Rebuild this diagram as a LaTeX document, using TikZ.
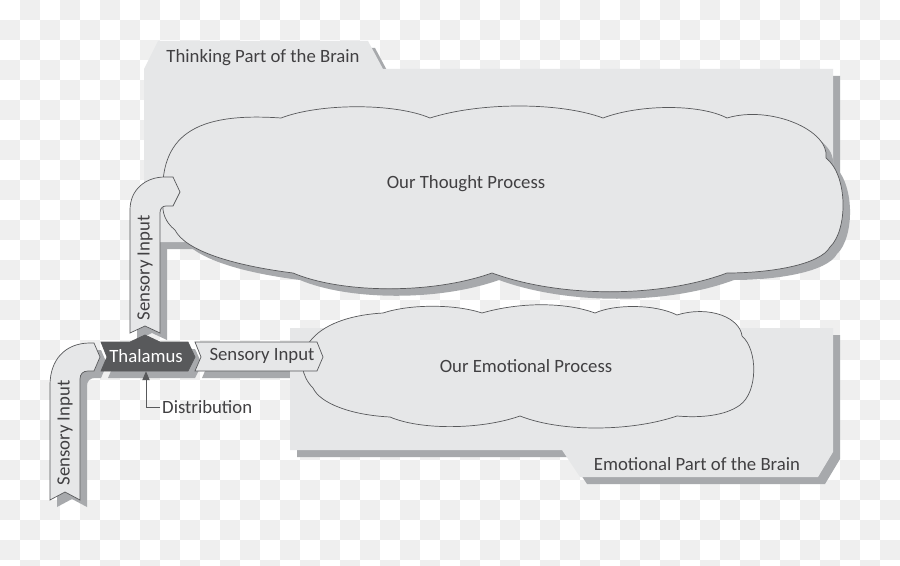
\documentclass[tikz,border=0pt]{standalone}
\usepackage{fontspec}
\setmainfont{Carlito}
\usepackage{xcolor}
\usepackage{tikz}
\usetikzlibrary{arrows.meta}

\definecolor{panelgray}{HTML}{E6E7E8}
\definecolor{shadowgray}{HTML}{A7A9AC}
\definecolor{inkgray}{HTML}{58595B}
\definecolor{textgray}{HTML}{414042}
\definecolor{checkgray}{HTML}{EFEFEF}

% outlines, in pixels of the 900x566 sheet
\newcommand{\thinkshape}{(144,69) -- (158,41) -- (368,41) -- (383,69) -- (833,69) -- (833,242) -- (144,242) -- cycle}
\newcommand{\emoshape}{(290,328) -- (833,328) -- (833,452) -- (818,477) -- (580,477) -- (562,450) -- (290,450) -- cycle}
\newcommand{\thoughtcloud}{(281,118) .. controls (320,103) and (395,103) .. (430,118)
  .. controls (480,102) and (560,102) .. (603,118)
  .. controls (640,104) and (700,104) .. (727,118)
  .. controls (770,105) and (830,130) .. (826,158)
  .. controls (848,175) and (848,230) .. (830,247)
  .. controls (820,265) and (770,273) .. (727,273)
  .. controls (660,298) and (560,298) .. (492,273)
  .. controls (430,295) and (340,293) .. (293,273)
  .. controls (230,265) and (185,250) .. (175,230)
  .. controls (165,222) and (162,212) .. (163,203)
  .. controls (158,135) and (195,112) .. (281,118) -- cycle}
\newcommand{\emocloud}{(383,313) .. controls (410,304) and (455,304) .. (482,313)
  .. controls (520,302) and (565,302) .. (595,313)
  .. controls (615,304) and (655,304) .. (677,315)
  .. controls (710,305) and (740,318) .. (742,336)
  .. controls (758,350) and (758,392) .. (740,405)
  .. controls (725,416) and (700,418) .. (677,416)
  .. controls (630,432) and (560,432) .. (520,416)
  .. controls (480,430) and (420,430) .. (390,417)
  .. controls (350,415) and (320,403) .. (313,388)
  .. controls (290,365) and (300,318) .. (383,313) -- cycle}
\newcommand{\ribbonA}{(50,500) -- (50,385) .. controls (50,360) and (65,343) .. (90,343) -- (94,343) -- (100,357) -- (94,371) -- (88,371) .. controls (83,371) and (80,374) .. (80,379) -- (80,500) -- (65,492) -- cycle}
\newcommand{\ribbonB}{(195,342) -- (317,342) -- (323,357) -- (317,371) -- (195,371) -- (201,357) -- cycle}
\newcommand{\ribbonC}{(130,333) -- (130,210) .. controls (130,190) and (145,177) .. (165,177) -- (173,177) -- (180,192) -- (173,206) -- (166,206) .. controls (162,206) and (160,209) .. (160,213) -- (160,333) -- (145,326) -- cycle}
\newcommand{\thalshape}{(101,342) -- (130,342) -- (145,335) -- (160,342) -- (188,342) -- (195,357) -- (188,371) -- (101,371) -- (107,357) -- cycle}

\begin{document}
\begin{tikzpicture}[
    x = 0.03cm, y = -0.03cm,
    panel/.style = {fill=panelgray},
    shade/.style = {fill=shadowgray, shift={(7,7)}},
    cloudline/.style = {fill=panelgray, draw=inkgray, line width=0.6pt},
    ribbon/.style = {fill=panelgray, draw=inkgray, line width=0.6pt},
    thalbox/.style = {fill=inkgray, draw=inkgray, line width=0.6pt},
    lbl/.style = {font=\fontsize{16}{19}\selectfont, text=textgray, inner sep=0pt},
    connector/.style = {draw=inkgray, line width=0.8pt, -{Triangle[length=0.27cm, width=0.22cm]}}
]
    \useasboundingbox (0,0) rectangle (900,566);

    % checkerboard backdrop
    \begin{scope}
        \clip (0,0) rectangle (900,566);
        \fill[white] (0,0) rectangle (900,566);
        \foreach \i in {0,...,44}{
            \foreach \j in {0,...,28}{
                \pgfmathtruncatemacro{\chk}{mod(\i+\j,2)}
                \ifnum\chk=1 \fill[checkgray] (20*\i,20*\j) rectangle ++(20,20);\fi
            }
        }
    \end{scope}

    % shadows of the ribbons
    \fill[shade] \ribbonA;
    \fill[shade] \ribbonC;
    \fill[shade] \thalshape;
    \fill[shade] \ribbonB;

    % thinking part
    \fill[shade] \thinkshape;
    \fill[panel] \thinkshape;
    \fill[shade] \thoughtcloud;
    \path[cloudline] \thoughtcloud;

    % emotional part
    \fill[shade] \emoshape;
    \fill[panel] \emoshape;
    \path[cloudline] \emocloud;

    % ribbons
    \path[ribbon] \ribbonA;
    \path[ribbon] \ribbonC;
    \path[thalbox] \thalshape;
    \path[ribbon] \ribbonB;

    \node[lbl] (thinklbl) at (263,58) {Thinking Part of the Brain};
    \node[lbl] (thoughtlbl) at (466,184) {Our Thought Process};
    \node[lbl] (emolbl) at (526,366) {Our Emotional Process};
    \node[lbl] (emopart) at (697,464) {Emotional Part of the Brain};
    \node[lbl] (sensB) at (262,356) {Sensory Input};
    \node[lbl, rotate=90] (sensA) at (65,433) {Sensory Input};
    \node[lbl, rotate=90] (sensC) at (145,268) {Sensory Input};
    \node[lbl, text=white, minimum height=0.87cm] (thal) at (146,356.5) {Thalamus};
    \node[lbl, anchor=west, inner xsep=0.06cm] (dist) at (160,407) {Distribution};

    \draw[connector] (dist.west) -| (thal.south);
\end{tikzpicture}
\end{document}
